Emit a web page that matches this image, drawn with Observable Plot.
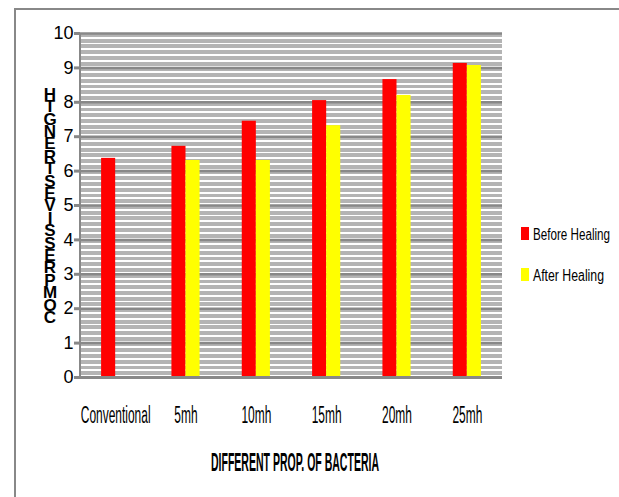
<!DOCTYPE html>
<html><head><meta charset="utf-8">
<script src="https://cdn.jsdelivr.net/npm/d3@7"></script>
<script src="https://cdn.jsdelivr.net/npm/@observablehq/plot@0.6"></script>
<style>
body{margin:0;background:#fff;}
svg{display:block;font-family:"Liberation Sans",Arial,sans-serif;}
</style>
</head><body><div id="chart"></div>
<script>
const categories = ["Conventional", "5mh", "10mh", "15mh", "20mh", "25mh"];
const seriesNames = ["Before Healing", "After Healing"];
const beforeHealing = [6.37, 6.72, 7.45, 8.05, 8.66, 9.13];
const afterHealing = [null, 6.31, 6.31, 7.32, 8.20, 9.07];
const yTicks = [0, 1, 2, 3, 4, 5, 6, 7, 8, 9, 10];
const yTitle = "COMPRESSIVE STRENGTH";
const xTitle = "DIFFERENT PROP. OF BACTERIA";
const seriesColors = ["#ff0000", "#ffff00"];
const barWidth = 0.2; // fraction of a category slot

const data = [];
categories.forEach((c, i) => {
  if (beforeHealing[i] != null) data.push({i, category: c, series: seriesNames[0], value: beforeHealing[i], x1: i - barWidth, x2: i});
  if (afterHealing[i] != null) data.push({i, category: c, series: seriesNames[1], value: afterHealing[i], x1: i, x2: i + barWidth});
});

const plot = Plot.plot({
  width: 619, height: 497,
  marginLeft: 80, marginRight: 117, marginTop: 33, marginBottom: 120,
  style: {background: "transparent"},
  x: {domain: [-0.5, categories.length - 0.5], label: null},
  y: {domain: [0, 10], label: null},
  color: {domain: seriesNames, range: seriesColors},
  marks: [
    Plot.gridY(yTicks, {stroke: "#888", strokeOpacity: 1, strokeWidth: 2.5}),
    Plot.rectY(data, {x1: "x1", x2: "x2", y1: 0, y2: "value", fill: "series"}),
    Plot.ruleY([0], {stroke: "#888", strokeWidth: 3}),
    Plot.axisY(yTicks, {tickSize: 6, tickPadding: 1, stroke: "#888", strokeWidth: 3, fontSize: 18, fill: "#000", label: null}),
    Plot.axisX(d3.range(categories.length), {anchor: "bottom", tickSize: 0, tickPadding: 29, fontSize: 23, fill: "#000", label: null,
      tickFormat: (d) => categories[d]})
  ]
});
document.getElementById("chart").append(plot);

const svg = d3.select(plot);
const y = plot.scale("y");
const x = plot.scale("x");
const y0 = y.apply(0), y10 = y.apply(10);
const unit = (y0 - y10) / 10;
const left = x.apply(-0.5), right = x.apply(categories.length - 0.5);

// striped background (decoration: 6 gray bands per unit)
const bg = svg.insert("g", "g").attr("shape-rendering", "crispEdges");
bg.append("rect").attr("x", left).attr("y", y10).attr("width", right - left).attr("height", y0 - y10).attr("fill", "#ffffff");
const step = unit / 6;
for (let k = 0; k < 60; k++) {
  bg.append("rect").attr("x", left).attr("y", y10 + k * step).attr("width", right - left)
    .attr("height", step * 0.68).attr("fill", "#b4b4b4");
}

// y axis line
svg.append("line").attr("x1", left).attr("x2", left).attr("y1", y10).attr("y2", y0)
  .attr("stroke", "#888").attr("stroke-width", 2);

// condense x tick labels
svg.selectAll('g[aria-label="x-axis tick label"] text').each(function() {
  const w = this.getComputedTextLength();
  this.setAttribute("textLength", w * 0.52);
  this.setAttribute("lengthAdjust", "spacingAndGlyphs");
});

function condensed(sel, target) {
  sel.attr("lengthAdjust", "spacingAndGlyphs").attr("textLength", target);
}

// x title
condensed(svg.append("text").attr("x", 295).attr("y", 471).attr("text-anchor", "middle")
  .attr("font-size", 26).attr("font-weight", "bold").text(xTitle), 168);

// y title stacked letters (reversed, bottom to top)
const letters = yTitle.replace(" ", "").split("");
const ty = svg.append("text").attr("font-size", 17).attr("font-weight", "bold").attr("text-anchor", "middle");
letters.forEach((ch, i) => {
  ty.append("tspan").attr("x", 50).attr("y", 323 - i * 12.4).text(ch);
});

// legend
const leg = svg.append("g").attr("text-anchor", "start");
seriesNames.forEach((s, i) => {
  const by = i === 0 ? 240 : 281;
  leg.append("rect").attr("x", 521).attr("y", by - 13).attr("width", 8).attr("height", 13).attr("fill", seriesColors[i]);
  condensed(leg.append("text").attr("x", 533).attr("y", by).attr("font-size", 16).attr("text-anchor", "start").text(s), i === 0 ? 77 : 71);
});

// outer border
svg.append("path").attr("d", "M15,497V9H619").attr("fill", "none").attr("stroke", "#888").attr("stroke-width", 2);
</script>
</body></html>
